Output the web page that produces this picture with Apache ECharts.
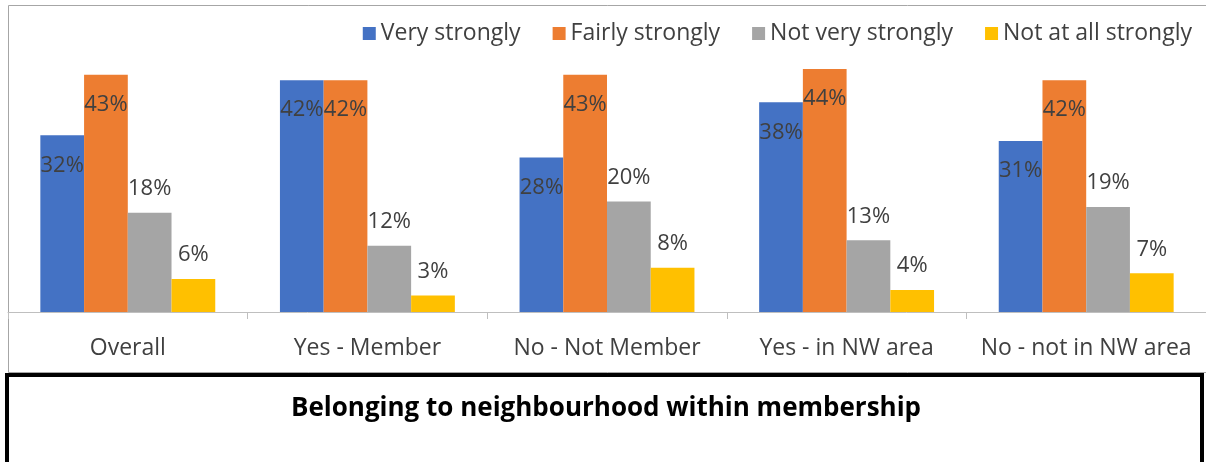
<!DOCTYPE html>
<html>
<head>
<meta charset="utf-8">
<script src="https://cdn.jsdelivr.net/npm/echarts@6/dist/echarts.min.js"></script>
<style>
html,body{margin:0;padding:0;background:#fff;}
#c{width:1206px;height:462px;}
</style>
</head>
<body>
<div id="c"></div>
<script>
const categories = ['Overall', 'Yes - Member', 'No - Not Member', 'Yes - in NW area', 'No - not in NW area'];
const seriesNames = ['Very strongly', 'Fairly strongly', 'Not very strongly', 'Not at all strongly'];
const veryStrongly = [32, 42, 28, 38, 31];
const fairlyStrongly = [43, 42, 43, 44, 42];
const notVeryStrongly = [18, 12, 20, 13, 19];
const notAtAllStrongly = [6, 3, 8, 4, 7];
const titleText = 'Belonging to neighbourhood within membership';

const colors = ['#4472C4', '#ED7D31', '#A5A5A5', '#FFC000'];
const FONT = 'Open Sans';
const allData = [veryStrongly, fairlyStrongly, notVeryStrongly, notAtAllStrongly];
const labelPos = ['insideTop', 'insideTop', 'top', 'top'];
const labelDist = [19, 19, 13, 13];

const chart = echarts.init(document.getElementById('c'), null, {renderer: 'canvas'});
chart.setOption({
  animation: false,
  backgroundColor: '#fff',
  textStyle: {fontFamily: FONT},
  legend: {
    right: 9, top: 17,
    itemWidth: 13, itemHeight: 13, itemGap: 32,
    icon: 'rect',
    textStyle: {fontFamily: FONT, fontSize: 23, color: '#404040'},
    data: seriesNames
  },
  grid: {left: 8, right: 0, top: 36, bottom: 150, containLabel: false},
  xAxis: {
    type: 'category', data: categories,
    axisLine: {show: true, lineStyle: {color: '#BFBFBF', width: 1}},
    axisTick: {show: true, length: 7, interval: 0, lineStyle: {color: '#BFBFBF'}},
    axisLabel: {fontFamily: FONT, fontSize: 23, color: '#404040', margin: 25, interval: 0}
  },
  yAxis: {type: 'value', min: 0, max: 50, show: false, splitLine: {show: false}},
  series: allData.map((d, i) => ({
    name: seriesNames[i], type: 'bar', data: d,
    barGap: '0%', barCategoryGap: '27%',
    itemStyle: {color: colors[i]},
    label: {
      show: true, position: labelPos[i], distance: labelDist[i],
      formatter: p => p.value + '%',
      fontFamily: FONT, fontSize: 22, color: '#404040'
    }
  })),
  graphic: [
    {type: 'rect', shape: {x: 8.5, y: 5.5, width: 1200, height: 367}, style: {fill: 'none', stroke: '#A6A6A6', lineWidth: 1}, silent: true, z: -1},
    {type: 'rect', shape: {x: 7, y: 375, width: 1195, height: 100}, style: {fill: '#fff', stroke: '#000', lineWidth: 4}, silent: true},
    {type: 'text', x: 606, y: 409, style: {text: titleText, fontFamily: FONT, fontWeight: 'bold', fontSize: 26, fill: '#000', align: 'center', verticalAlign: 'middle'}}
  ]
});
</script>
</body>
</html>
